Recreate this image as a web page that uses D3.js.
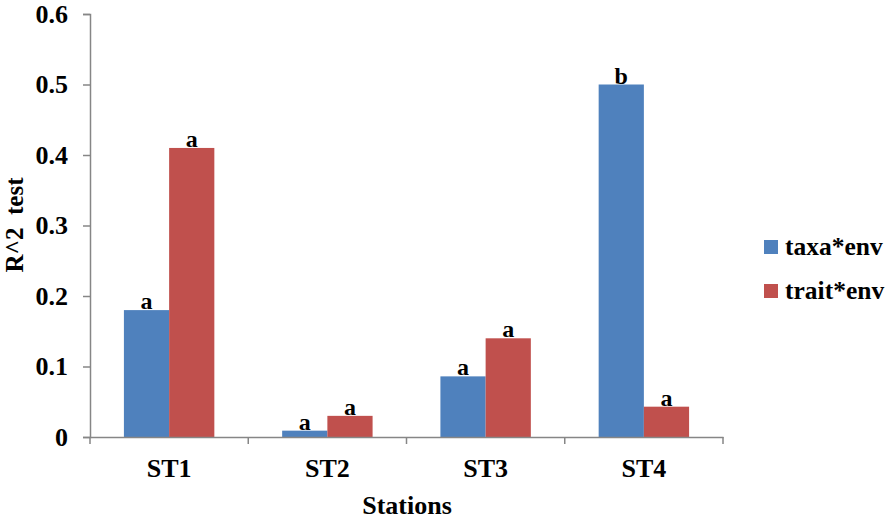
<!DOCTYPE html>
<html>
<head>
<meta charset="utf-8">
<script src="https://cdn.jsdelivr.net/npm/d3@7"></script>
</head>
<body style="margin:0; background:#fff">
<svg width="886" height="524"></svg>
<script>
const stations = ['ST1', 'ST2', 'ST3', 'ST4'];
const seriesNames = ['taxa*env', 'trait*env'];
const taxaEnv = [0.18, 0.009, 0.086, 0.5];
const traitEnv = [0.41, 0.03, 0.14, 0.043];
const taxaLetters = ['a', 'a', 'a', 'b'];
const traitLetters = ['a', 'a', 'a', 'a'];
const yTicks = [0, 0.1, 0.2, 0.3, 0.4, 0.5, 0.6];
const colors = ['#4F81BD', '#C0504D'];

const svg = d3.select('svg');
const axisColor = '#868686';
const serif = 'Liberation Serif';

const x = d3.scaleBand().domain(stations).range([90, 723]);
const inner = d3.scaleBand().domain(seriesNames).range([0, x.bandwidth()]).paddingInner(0).paddingOuter(0.75);
const y = d3.scaleLinear().domain([0, 0.6]).range([437, 14]);

// bars
const series = [taxaEnv, traitEnv];
const letters = [taxaLetters, traitLetters];
const rows = [];
stations.forEach((s, i) => {
    seriesNames.forEach((n, j) => {
        rows.push({station: s, name: n, value: series[j][i], letter: letters[j][i], color: colors[j]});
    });
});

svg.selectAll('rect.bar')
    .data(rows)
    .join('rect')
    .attr('class', 'bar')
    .attr('x', d => x(d.station) + inner(d.name))
    .attr('y', d => y(d.value))
    .attr('width', inner.bandwidth())
    .attr('height', d => y(0) - y(d.value))
    .attr('fill', d => d.color);

svg.selectAll('text.letter')
    .data(rows)
    .join('text')
    .attr('class', 'letter')
    .attr('x', d => x(d.station) + inner(d.name) + inner.bandwidth() / 2)
    .attr('y', d => y(d.value) - 1)
    .attr('text-anchor', 'middle')
    .attr('font-size', 24)
    .text(d => d.letter);

// y axis
const yAxis = svg.append('g')
    .attr('transform', 'translate(90,0)')
    .call(d3.axisLeft(y).tickValues(yTicks).tickSize(7).tickPadding(15)
        .tickFormat(d => d === 0 ? '0' : d3.format('.1f')(d)));
yAxis.select('.domain').attr('stroke', axisColor).attr('stroke-width', 1.5);
yAxis.selectAll('.tick line').attr('stroke', axisColor).attr('stroke-width', 1.5);
yAxis.selectAll('.tick text').attr('fill', '#000').attr('font-size', 26);

// x axis
const xAxis = svg.append('g')
    .attr('transform', 'translate(0,437)')
    .call(d3.axisBottom(x).tickSize(0).tickPadding(21.5));
xAxis.select('.domain').attr('stroke', axisColor).attr('stroke-width', 1.5);
xAxis.selectAll('.tick text').attr('fill', '#000').attr('font-size', 26);
xAxis.selectAll('line.sep')
    .data(d3.range(stations.length + 1))
    .join('line')
    .attr('class', 'sep')
    .attr('x1', i => 90 + i * x.step())
    .attr('x2', i => 90 + i * x.step())
    .attr('y1', 0)
    .attr('y2', 7)
    .attr('stroke', axisColor)
    .attr('stroke-width', 1.5);

// titles
svg.append('text')
    .attr('x', 407)
    .attr('y', 514)
    .attr('text-anchor', 'middle')
    .attr('font-size', 26)
    .text('Stations');

svg.append('text')
    .attr('transform', 'translate(23,225) rotate(-90)')
    .attr('text-anchor', 'middle')
    .attr('font-size', 25)
    .style('white-space', 'pre')
    .text('R^2  test');

// legend
const legend = svg.selectAll('g.legend')
    .data(seriesNames)
    .join('g')
    .attr('class', 'legend')
    .attr('transform', (d, i) => `translate(764,${240 + i * 44})`);
legend.append('rect')
    .attr('width', 14)
    .attr('height', 14)
    .attr('fill', (d, i) => colors[i]);
legend.append('text')
    .attr('x', 21)
    .attr('y', 15)
    .attr('font-size', 25.5)
    .text(d => d);

svg.selectAll('text')
    .attr('font-family', serif)
    .attr('font-weight', 'bold')
    .attr('fill', '#000');
</script>
</body>
</html>
